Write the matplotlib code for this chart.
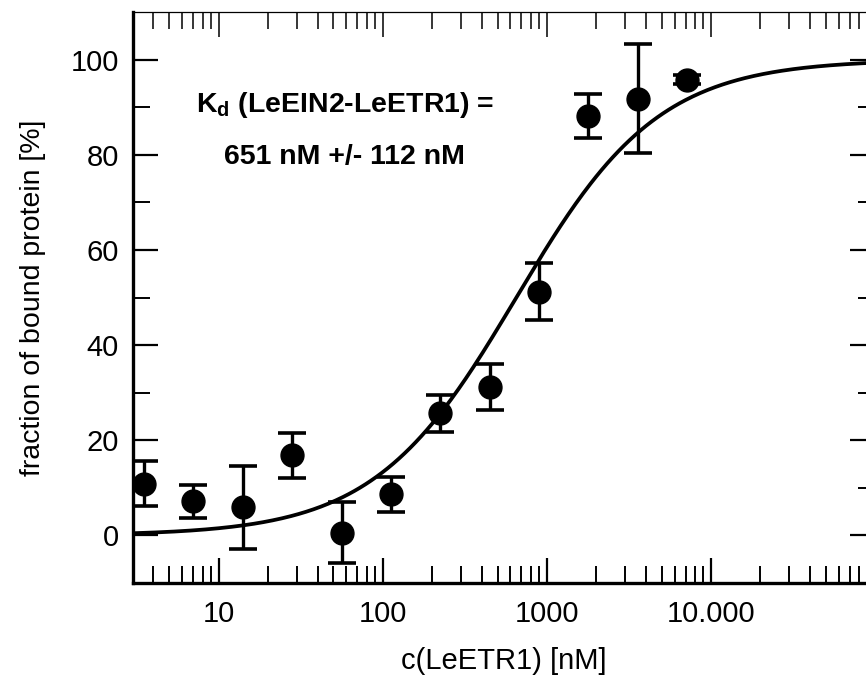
import numpy as np
import matplotlib
matplotlib.use("Agg")
import matplotlib.pyplot as plt
from matplotlib.ticker import LogLocator, FixedLocator, FuncFormatter, NullFormatter

plt.rcParams['font.family'] = ['Liberation Sans', 'DejaVu Sans']

# data
conc = [3.5, 7, 14, 28, 56, 112, 224, 448, 896, 1792, 3584, 7168]
frac = [10.9, 7.2, 5.9, 16.8, 0.6, 8.6, 25.7, 31.2, 51.2, 88.2, 91.8, 95.8]
err = [4.8, 3.5, 8.7, 4.7, 6.4, 3.6, 3.9, 4.8, 6.0, 4.6, 11.4, 1.0]
kd = 651.0
bmax = 100.0
xtick_vals = [10, 100, 1000, 10000]
xtick_labels = ['10', '100', '1000', '10.000']

fig = plt.figure(figsize=(8.66, 6.8), dpi=100)
ax = fig.add_axes([133/866, 1-583/680, (875-133)/866, (583-12)/680])

xfit = np.logspace(np.log10(3), 5, 400)
yfit = bmax * xfit / (kd + xfit)
ax.plot(xfit, yfit, color='black', lw=2.7, zorder=2)

ax.errorbar(conc, frac, yerr=err, fmt='o', color='black', ms=16.5,
            elinewidth=2.4, capsize=10, capthick=2.6, zorder=3)

ax.set_xscale('log')
ax.set_xlim(3, 1e5)
ax.set_ylim(-10, 110)

ax.xaxis.set_major_locator(FixedLocator([10, 100, 1000, 10000, 100000]))
lab = dict(zip(xtick_vals, xtick_labels))
ax.xaxis.set_major_formatter(FuncFormatter(lambda v, p: lab.get(int(round(v)), '')))
ax.xaxis.set_minor_locator(LogLocator(base=10, subs=np.arange(2, 10), numticks=20))
ax.xaxis.set_minor_formatter(NullFormatter())

ax.yaxis.set_major_locator(FixedLocator([0, 20, 40, 60, 80, 100]))
ax.yaxis.set_minor_locator(FixedLocator([10, 30, 50, 70, 90]))

ax.tick_params(which='major', direction='in', length=18, width=1.6,
               top=True, right=True, labelsize=21, colors='black')
ax.tick_params(which='minor', direction='in', length=12, width=1.4,
               top=True, right=True)
ax.tick_params(axis='x', which='major', pad=12)
ax.tick_params(axis='y', which='major', pad=10)

for t in ax.xaxis.get_major_ticks() + ax.xaxis.get_minor_ticks():
    t.tick2line.set_markeredgewidth(1.1)

ax.spines['left'].set_linewidth(2.4)
ax.spines['bottom'].set_linewidth(2.4)
ax.spines['top'].set_linewidth(0.9)
ax.spines['right'].set_linewidth(0.9)

ax.set_xlabel('c(LeETR1) [nM]', fontsize=21, labelpad=14)
ax.set_ylabel('fraction of bound protein [%]', fontsize=20.5, labelpad=18)

ax.text(58.7, 90.5, r'K$_\mathregular{d}$ (LeEIN2-LeETR1) =', fontsize=20.5,
        fontweight='bold', ha='center', va='center')
ax.text(58.7, 79.6, '651 nM +/- 112 nM', fontsize=20.5,
        fontweight='bold', ha='center', va='center')

fig.savefig('out.png', dpi=100)
